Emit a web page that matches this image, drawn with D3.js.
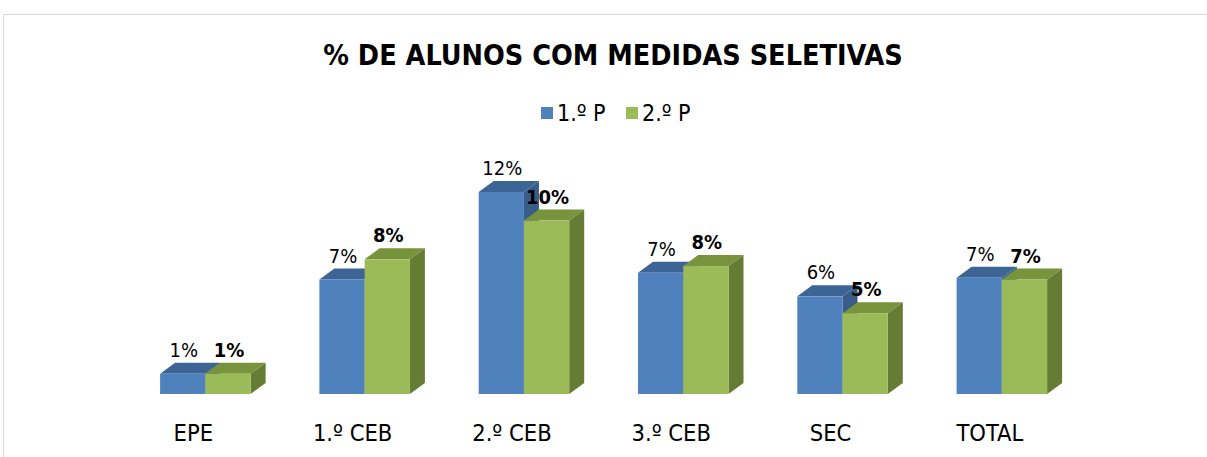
<!DOCTYPE html>
<html>
<head>
<meta charset="utf-8">
<script src="https://cdn.jsdelivr.net/npm/d3@7"></script>
<style>
  body { margin: 0; background: #fff; }
  svg { display: block; }
  text { font-family: "DejaVu Sans Condensed", "DejaVu Sans", sans-serif; fill: #000; }
</style>
</head>
<body>
<svg id="chart" width="1207" height="457"></svg>
<script>
// School levels and the share of students with selective measures per period
const categories = ["EPE", "1.º CEB", "2.º CEB", "3.º CEB", "SEC", "TOTAL"];
const seriesNames = ["1.º P", "2.º P"];
const period1 = [0.012, 0.068, 0.120, 0.072, 0.058, 0.069];
const period2 = [0.012, 0.080, 0.103, 0.076, 0.048, 0.068];
const yDomain = [0, 0.12];

const svg = d3.select("#chart");
const W = 1207, H = 457;

// Face colours for each series: front, top, side
const palette = {
  "1.º P": { front: "#4f81bd", top: "#3c6596", side: "#385d8a" },
  "2.º P": { front: "#9bbb59", top: "#77933c", side: "#647c33" }
};
const depth = { dx: 15, dy: 11 };

// Chart frame
svg.append("rect")
  .attr("x", 3.5).attr("y", 14.5)
  .attr("width", W + 10).attr("height", H + 10)
  .attr("fill", "none").attr("stroke", "#d9d9d9").attr("stroke-width", 1);

// Title
svg.append("text")
  .attr("x", 613).attr("y", 65)
  .attr("text-anchor", "middle")
  .attr("font-size", 28.5).attr("font-weight", "bold")
  .text("% DE ALUNOS COM MEDIDAS SELETIVAS");

// Legend
const legend = svg.append("g");
const legendItems = [{ x: 541 }, { x: 626 }];
seriesNames.forEach((s, i) => {
  const g = legend.append("g").attr("transform", `translate(${legendItems[i].x},107)`);
  g.append("rect").attr("width", 12).attr("height", 12).attr("fill", palette[s].front);
  g.append("text").attr("x", 16).attr("y", 14).attr("font-size", 23).text(s);
});

// Scales
const x0 = d3.scaleBand().domain(categories).range([125.7, 1081.5]).padding(0);
const groupWidth = 90.5;
const x1 = d3.scaleBand().domain(seriesNames).range([0, groupWidth]).padding(0);
const y = d3.scaleLinear().domain(yDomain).range([394, 192]);

const rows = categories.map((c, i) => ({
  category: c,
  values: [
    { series: seriesNames[0], value: period1[i] },
    { series: seriesNames[1], value: period2[i] }
  ]
}));

const fmt = d3.format(".0%");

const groups = svg.append("g").selectAll("g.cat")
  .data(rows).join("g")
  .attr("class", "cat")
  .attr("transform", d => `translate(${x0(d.category) + x0.bandwidth() / 2 - groupWidth / 2},0)`);

groups.each(function (d) {
  const g = d3.select(this);
  d.values.forEach(v => {
    const bx = x1(v.series), bw = x1.bandwidth();
    const yt = y(v.value), yb = y(0);
    const { dx, dy } = depth;
    const c = palette[v.series];
    const bar = g.append("g");
    bar.append("polygon")
      .attr("points", [[bx + bw, yt], [bx + bw + dx, yt - dy], [bx + bw + dx, yb - dy], [bx + bw, yb]].join(" "))
      .attr("fill", c.side);
    bar.append("polygon")
      .attr("points", [[bx, yt], [bx + dx, yt - dy], [bx + bw + dx, yt - dy], [bx + bw, yt]].join(" "))
      .attr("fill", c.top);
    bar.append("rect")
      .attr("x", bx).attr("y", yt).attr("width", bw).attr("height", yb - yt)
      .attr("fill", c.front);
  });
  // Value labels drawn after both bars so neither covers them
  d.values.forEach((v, j) => {
    g.append("text")
      .attr("x", x1(v.series) + x1.bandwidth() / 2 + 1)
      .attr("y", y(v.value) - 17)
      .attr("text-anchor", "middle")
      .attr("font-size", 20)
      .attr("font-weight", j === 1 ? "bold" : "normal")
      .text(fmt(v.value));
  });
});

// Category labels
svg.append("g").selectAll("text")
  .data(categories).join("text")
  .attr("x", d => x0(d) + x0.bandwidth() / 2 - 12)
  .attr("y", 441)
  .attr("text-anchor", "middle")
  .attr("font-size", 23.5)
  .text(d => d);
</script>
</body>
</html>
